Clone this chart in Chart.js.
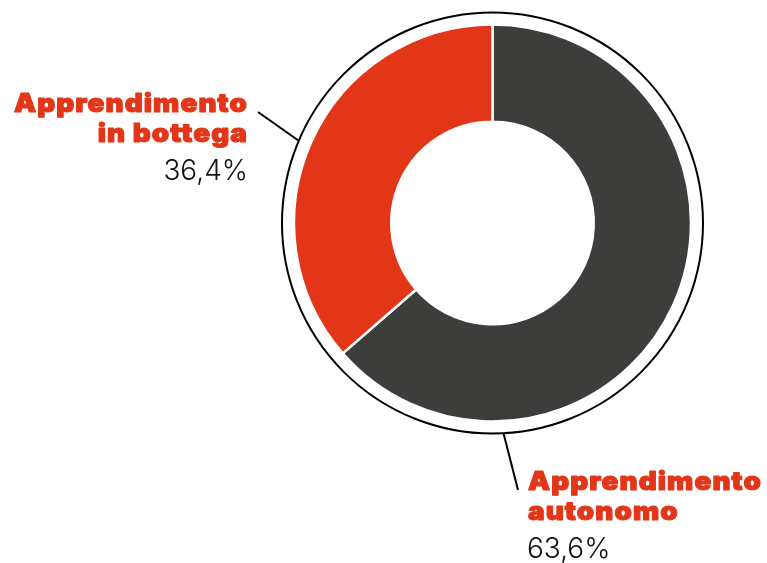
<!DOCTYPE html>
<html>
<head>
<meta charset="utf-8">
<script src="https://cdn.jsdelivr.net/npm/chart.js@4.4.1/dist/chart.umd.min.js"></script>
<style>
  body { margin: 0; background: #fff; }
  canvas { display: block; }
</style>
</head>
<body>
<canvas id="myChart" width="767" height="563"></canvas>
<script>
const labels = ['Apprendimento autonomo', 'Apprendimento in bottega'];
const labelLines = [['Apprendimento', 'autonomo'], ['Apprendimento', 'in bottega']];
const values = [63.6, 36.4];
const colors = ['#3d3d3b', '#e33618'];

// where each caption sits and where its leader line meets the outer ring
const captions = [
  { x: 527, y: 490, align: 'left', ringAngle: 177, lineEnd: [518, 490] },
  { x: 248, y: 112, align: 'right', ringAngle: 293, lineEnd: [258, 112] }
];

const fmt = v => v.toFixed(1).replace('.', ',') + '%';

const ringAndLabels = {
  id: 'ringAndLabels',
  afterDraw(chart) {
    const ctx = chart.ctx;
    const arc = chart.getDatasetMeta(0).data[0];
    const cx = arc.x, cy = arc.y;
    const r = arc.outerRadius + 12;

    ctx.save();
    ctx.strokeStyle = '#000';
    ctx.lineWidth = 2;
    ctx.beginPath();
    ctx.arc(cx, cy, r, 0, Math.PI * 2);
    ctx.stroke();

    // leader lines
    captions.forEach(c => {
      const a = c.ringAngle * Math.PI / 180;
      ctx.beginPath();
      ctx.moveTo(cx + Math.sin(a) * r, cy - Math.cos(a) * r);
      ctx.lineTo(c.lineEnd[0], c.lineEnd[1]);
      ctx.stroke();
    });

    // captions (stroked too, for a heavier look)
    const titleFont = '900 26px Inter';
    ctx.font = titleFont;
    ctx.letterSpacing = '1px';
    const sx = 234 / ctx.measureText('Apprendimento').width;
    captions.forEach((c, i) => {
      ctx.textAlign = c.align;
      ctx.textBaseline = 'alphabetic';
      ctx.fillStyle = colors[1];
      ctx.strokeStyle = colors[1];
      ctx.lineWidth = 1.1;
      ctx.lineJoin = 'round';
      ctx.font = titleFont;
      ctx.letterSpacing = '1px';
      labelLines[i].forEach((line, j) => {
        ctx.save();
        ctx.translate(c.x + (c.align === 'left' ? 1 : 0), c.y + j * 30);
        ctx.scale(sx, 1);
        ctx.fillText(line, 0, 0);
        ctx.strokeText(line, 0, 0);
        ctx.restore();
      });
      ctx.letterSpacing = '0px';
      ctx.fillStyle = '#111';
      ctx.font = '300 28px Inter';
      ctx.fillText(fmt(values[i]), c.x, c.y + labelLines[i].length * 30 + 8);
    });
    ctx.restore();
  }
};

const myChart = new Chart(document.getElementById('myChart'), {
  type: 'doughnut',
  data: {
    labels: labels,
    datasets: [{
      data: values,
      backgroundColor: colors,
      borderColor: '#fff',
      borderWidth: 2.5
    }]
  },
  options: {
    responsive: false,
    animation: false,
    radius: 198.5,
    cutout: '51%',
    layout: { padding: { left: 295, top: 25, right: 77, bottom: 142 } },
    plugins: {
      legend: { display: false },
      tooltip: { enabled: false }
    }
  },
  plugins: [ringAndLabels]
});
</script>
</body>
</html>
